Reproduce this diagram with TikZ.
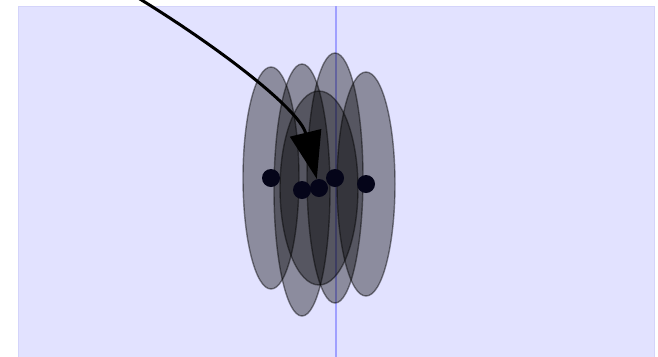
\documentclass[tikz,border=0pt]{standalone}
\usepackage{xcolor}
\usepackage{tikz}
\usetikzlibrary{arrows.meta}

\definecolor{panelbg}{RGB}{226,226,255}
\definecolor{panelrule}{RGB}{212,212,250}
\definecolor{axisblue}{RGB}{160,160,255}
\definecolor{dotnavy}{RGB}{5,5,25}

\begin{document}
\begin{tikzpicture}[x=0.02cm, y=-0.02cm,
    blob/.style={fill=black, fill opacity=0.38, draw=black, draw opacity=0.45, line width=0.8pt},
    dot/.style={circle, fill=dotnavy, inner sep=0pt, minimum size=18*0.02cm}]
    \useasboundingbox (0,0) rectangle (658,356);
    \clip (0,0) rectangle (658,356);

    % panel and axis
    \draw[panelrule, fill=panelbg] (18,6) rectangle (654,370);
    \draw[axisblue, line width=0.6pt] (336,6) -- (336,370);

    % centres
    \coordinate (c1) at (271,178);
    \coordinate (c2) at (302,190);
    \coordinate (c3) at (319,188);
    \coordinate (c4) at (335,178);
    \coordinate (c5) at (366,184);
    \coordinate (start) at (130,-7);

    % spread ellipses
    \draw[blob] (c1) ellipse [x radius=28, y radius=111];
    \draw[blob] (c2) ellipse [x radius=28, y radius=126];
    \draw[blob] (c4) ellipse [x radius=28, y radius=125];
    \draw[blob] (c5) ellipse [x radius=29, y radius=112];
    \draw[blob] (c3) ellipse [x radius=39, y radius=97];

    % points
    \node[dot] (p1) at (c1) {};
    \node[dot] (p2) at (c2) {};
    \node[dot] (p3) at (c3) {};
    \node[dot] (p4) at (c4) {};
    \node[dot] (p5) at (c5) {};

    % pointer
    \draw[-{Triangle[length=27pt, width=18pt]}, line width=1.7pt]
        (start) .. controls (218,46) and (300,110) .. (p3);
\end{tikzpicture}
\end{document}
